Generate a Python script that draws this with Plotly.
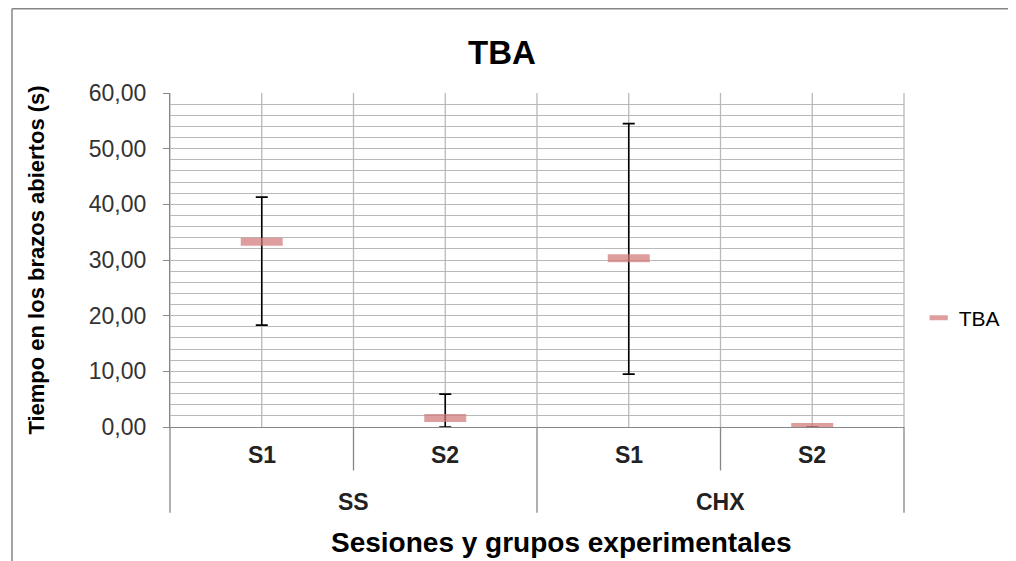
import plotly.graph_objects as go

groups = ["SS", "SS", "CHX", "CHX"]
sessions = ["S1", "S2", "S1", "S2"]
tba_mean = [33.3, 1.6, 30.3, 0.0]
err_plus = [8.0, 4.3, 24.2, 0.0]
err_minus = [15.0, 1.6, 20.8, 0.0]

FONT = "Liberation Sans, Arial, sans-serif"
GRID = "#b9b9b9"
AXIS = "#868686"
MARK = "rgba(210,120,120,0.72)"

n = len(sessions)
fig = go.Figure()
fig.add_trace(go.Scatter(
    x=[groups, sessions], y=tba_mean, mode="markers", name="TBA",
    showlegend=False,
    marker=dict(symbol="line-ew-open", size=30, color=MARK,
                line=dict(width=8, color=MARK)),
    error_y=dict(type="data", symmetric=False, array=err_plus,
                 arrayminus=err_minus, color="black", thickness=1.6, width=6),
))
# legend entry
fig.add_trace(go.Scatter(
    x=[[groups[0]], [sessions[0]]], y=[None], mode="markers", name="TBA",
    marker=dict(symbol="line-ew-open", size=13, color=MARK,
                line=dict(width=5, color=MARK)),
))

shapes, annotations = [], []
# vertical gridlines at category centres and boundaries
for i in range(n + 1):
    shapes.append(dict(type="line", xref="paper", yref="paper", x0=i / n, x1=i / n,
                       y0=0, y1=1, line=dict(color=GRID, width=1.3), layer="below"))
for i in range(n):
    c = (i + 0.5) / n
    shapes.append(dict(type="line", xref="paper", yref="paper", x0=c, x1=c,
                       y0=0, y1=1, line=dict(color=GRID, width=1.3), layer="below"))
    annotations.append(dict(text=f"<b>{sessions[i]}</b>", xref="paper", yref="paper",
                            x=c, y=-0.084, showarrow=False, xanchor="center",
                            yanchor="middle", font=dict(size=23, family=FONT, color="#222")))
# dividers below axis
group_starts = [i for i in range(n) if i == 0 or groups[i] != groups[i - 1]]
for i in range(n + 1):
    is_group_edge = (i == n) or (i in group_starts)
    shapes.append(dict(type="line", xref="paper", yref="paper", x0=i / n, x1=i / n,
                       y0=0, y1=(-0.257 if is_group_edge else -0.13),
                       line=dict(color=AXIS, width=1.3)))
bounds = group_starts + [n]
for a, b in zip(bounds[:-1], bounds[1:]):
    annotations.append(dict(text=f"<b>{groups[a]}</b>", xref="paper", yref="paper",
                            x=(a + b) / 2 / n, y=-0.225, showarrow=False,
                            xanchor="center", yanchor="middle",
                            font=dict(size=23, family=FONT, color="#222")))
# x axis title
annotations.append(dict(text="<b>Sesiones y grupos experimentales</b>",
                        xref="paper", yref="paper", x=0.534, y=-0.347,
                        showarrow=False, xanchor="center", yanchor="middle",
                        font=dict(size=28, family=FONT, color="black")))
# chart border (left and top visible)
shapes.append(dict(type="line", xref="paper", yref="paper", x0=-0.2153, x1=-0.2153,
                   y0=1.2524, y1=-0.5, line=dict(color=AXIS, width=1.5)))
shapes.append(dict(type="line", xref="paper", yref="paper", x0=-0.2153, x1=1.2,
                   y0=1.2524, y1=1.2524, line=dict(color=AXIS, width=1.5)))

fig.update_layout(
    width=1008, height=553,
    margin=dict(l=162, r=112, t=85, b=134, autoexpand=False),
    paper_bgcolor="white", plot_bgcolor="white",
    separators=",.",
    font=dict(family=FONT, color="black"),
    title=dict(text="<b>TBA</b>", x=0.490, xref="container", y=0.920,
               yref="container", xanchor="center", yanchor="middle",
               font=dict(size=33, family=FONT, color="black")),
    showlegend=True,
    legend=dict(x=1.020, y=0.326, xanchor="left", yanchor="middle",
                font=dict(size=21, family=FONT, color="black"),
                bgcolor="rgba(0,0,0,0)", itemwidth=30),
    shapes=shapes, annotations=annotations,
)
fig.update_yaxes(
    range=[0, 60], dtick=10, tickformat=".2f", automargin=False,
    showgrid=True, gridcolor=GRID, gridwidth=1.3,
    minor=dict(dtick=2, showgrid=True, gridcolor=GRID, gridwidth=1.3),
    ticks="outside", ticklen=6, tickcolor=AXIS, ticklabelstandoff=12,
    showline=True, linecolor=AXIS, linewidth=1.3,
    zeroline=False,
    tickfont=dict(size=23, family=FONT, color="#333"),
    title=dict(text="<b>Tiempo en los brazos abiertos (s)</b>",
               font=dict(size=22, family=FONT, color="black"), standoff=37),
)
fig.update_xaxes(
    type="multicategory", range=[-0.5, n - 0.5], automargin=False,
    showgrid=False, showticklabels=False, ticks="",
    showline=True, linecolor=AXIS, linewidth=1.3, showdividers=False,
)

fig.write_html("out.html")
